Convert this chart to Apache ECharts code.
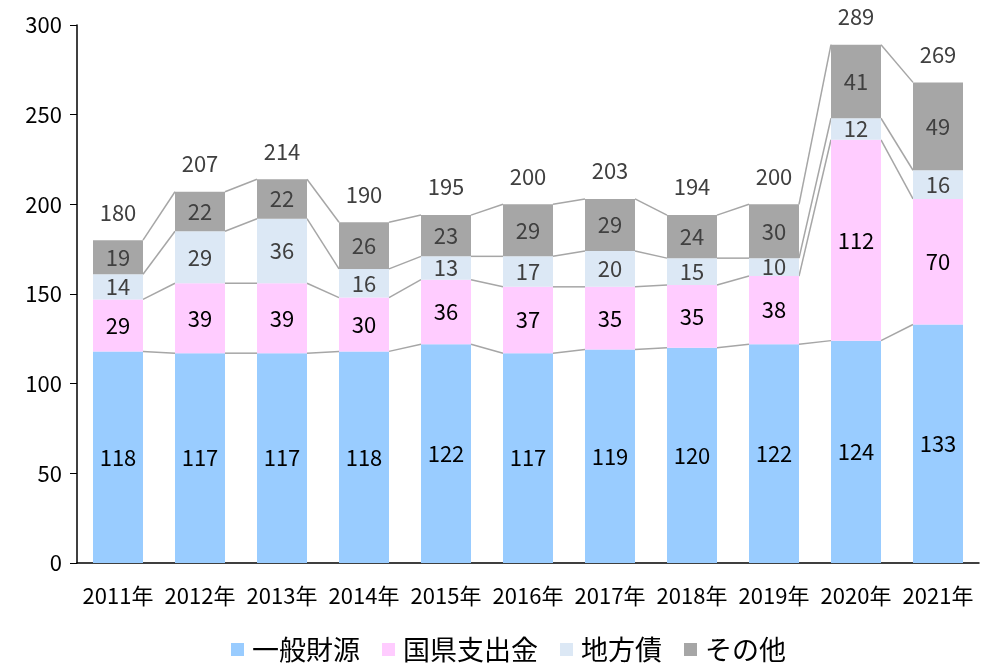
<!DOCTYPE html>
<html>
<head>
<meta charset="utf-8">
<script src="https://cdn.jsdelivr.net/npm/echarts@6/dist/echarts.min.js"></script>
<style>
  html, body { margin: 0; padding: 0; background: #fff; }
  #chart { width: 982px; height: 665px; }
</style>
</head>
<body>
<div id="chart"></div>
<script>
var years = ['2011年', '2012年', '2013年', '2014年', '2015年', '2016年', '2017年', '2018年', '2019年', '2020年', '2021年'];
var ippan = [118, 117, 117, 118, 122, 117, 119, 120, 122, 124, 133];
var kokuken = [29, 39, 39, 30, 36, 37, 35, 35, 38, 112, 70];
var chihousai = [14, 29, 36, 16, 13, 17, 20, 15, 10, 12, 16];
var sonota = [19, 22, 22, 26, 23, 29, 29, 24, 30, 41, 49];
var totals = [180, 207, 214, 190, 195, 200, 203, 194, 200, 289, 269];
var yTicks = [0, 50, 100, 150, 200, 250, 300];

var FONT = '"Noto Sans CJK JP", sans-serif';
var BAR_W = 50;

// cumulative tops of each stack level
var levels = [ippan, kokuken, chihousai, sonota];
var cum = [];
var run = years.map(function () { return 0; });
for (var k = 0; k < levels.length; k++) {
    run = run.map(function (v, i) { return v + levels[k][i]; });
    cum.push(run.slice());
}

function barSeries(name, data, color, labelColor) {
    return {
        name: name,
        type: 'bar',
        stack: 'total',
        barWidth: BAR_W,
        data: data,
        itemStyle: { color: color },
        label: {
            show: true,
            position: 'inside',
            color: labelColor,
            fontSize: 22,
            fontFamily: FONT
        }
    };
}

// gray connecting lines between neighbouring bars
var links = {
    type: 'custom',
    silent: true,
    z: 1,
    data: years.slice(0, -1).map(function (y, i) { return [i]; }),
    renderItem: function (params, api) {
        var i = params.dataIndex;
        var kids = [];
        for (var k = 0; k < cum.length; k++) {
            var a = api.coord([i, cum[k][i]]);
            var b = api.coord([i + 1, cum[k][i + 1]]);
            kids.push({
                type: 'line',
                shape: { x1: a[0] + BAR_W / 2, y1: a[1], x2: b[0] - BAR_W / 2, y2: b[1] },
                style: { stroke: '#a6a6a6', lineWidth: 1.5 }
            });
        }
        return { type: 'group', children: kids };
    }
};

// totals written above each stack
var totalLabels = {
    type: 'custom',
    silent: true,
    z: 3,
    data: years.map(function (y, i) { return [i]; }),
    renderItem: function (params, api) {
        var i = params.dataIndex;
        var p = api.coord([i, cum[3][i]]);
        return {
            type: 'text',
            x: p[0],
            y: p[1] - 17,
            style: {
                text: String(totals[i]),
                fill: '#404040',
                font: '22px ' + FONT,
                align: 'center',
                verticalAlign: 'bottom'
            }
        };
    }
};

var chart = echarts.init(document.getElementById('chart'));
var option = {
    animation: false,
    grid: { left: 77, right: 3, top: 25, bottom: 102, containLabel: false },
    legend: {
        data: ['一般財源', '国県支出金', '地方債', 'その他'],
        bottom: -3,
        left: 226,
        itemWidth: 13,
        itemHeight: 13,
        itemGap: 22,
        icon: 'rect',
        textStyle: { fontSize: 27, color: '#000', fontFamily: FONT, padding: [0, 0, 0, 3] }
    },
    xAxis: {
        type: 'category',
        data: years,
        axisLine: { lineStyle: { color: '#000', width: 1.5 } },
        axisTick: { show: false },
        axisLabel: { color: '#000', fontSize: 22, fontFamily: FONT, margin: 22, interval: 0 }
    },
    yAxis: {
        type: 'value',
        min: yTicks[0],
        max: yTicks[yTicks.length - 1],
        interval: 50,
        splitLine: { show: false },
        axisLine: { show: true, lineStyle: { color: '#000', width: 1.5 } },
        axisTick: { show: true, length: 7, lineStyle: { color: '#000' } },
        axisLabel: { color: '#000', fontSize: 22, fontFamily: FONT, margin: 15 }
    },
    series: [
        barSeries('一般財源', ippan, '#99ccff', '#000'),
        barSeries('国県支出金', kokuken, '#ffccff', '#000'),
        barSeries('地方債', chihousai, '#dce8f5', '#404040'),
        barSeries('その他', sonota, '#a6a6a6', '#404040'),
        links,
        totalLabels
    ]
};
chart.setOption(option);
</script>
</body>
</html>
